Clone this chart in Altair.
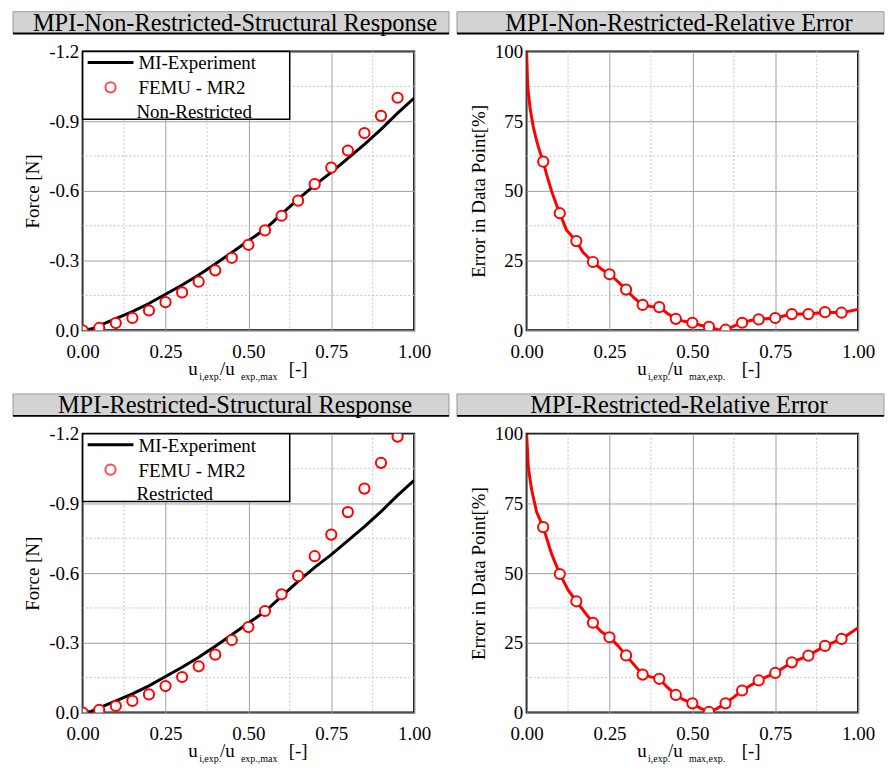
import altair as alt
import pandas as pd

FONT = "Liberation Serif"
W, H = 333, 280

# ---------------- data ----------------
x_ticks = [0, 0.25, 0.5, 0.75, 1.0]
x_minor = [0.125, 0.375, 0.625, 0.875]
force_ticks = [0, -0.3, -0.6, -0.9, -1.2]
force_minor = [-0.15, -0.45, -0.75, -1.05]
err_ticks = [0, 25, 50, 75, 100]
err_minor = [12.5, 37.5, 62.5, 87.5]

exp_u = [0, 0.025, 0.05, 0.1, 0.15, 0.2, 0.25, 0.3, 0.35, 0.4, 0.45, 0.5, 0.55,
         0.6, 0.65, 0.7, 0.75, 0.8, 0.85, 0.9, 0.95, 1.0]
exp_force = [0, -0.005, -0.02, -0.05, -0.08, -0.115, -0.155, -0.195, -0.238, -0.285,
             -0.335, -0.385, -0.435, -0.5, -0.565, -0.625, -0.68, -0.74, -0.8,
             -0.865, -0.935, -1.0]

femu_u = [0, 0.05, 0.1, 0.15, 0.2, 0.25, 0.3, 0.35, 0.4, 0.45, 0.5, 0.55, 0.6,
          0.65, 0.7, 0.75, 0.8, 0.85, 0.9, 0.95]
femu_nr_force = [0, -0.01, -0.031, -0.053, -0.085, -0.121, -0.163, -0.209, -0.258,
                 -0.312, -0.368, -0.43, -0.493, -0.558, -0.629, -0.7, -0.774,
                 -0.849, -0.923, -1.001]
femu_r_force = [0, -0.011, -0.028, -0.05, -0.078, -0.114, -0.153, -0.199, -0.249,
                -0.312, -0.368, -0.437, -0.509, -0.588, -0.673, -0.766, -0.863,
                -0.964, -1.075, -1.188]

err_nr_line_u = [0, 0.003, 0.01, 0.02, 0.03, 0.04, 0.05, 0.06, 0.075, 0.09, 0.1,
                 0.12, 0.15, 0.17, 0.2, 0.225, 0.25, 0.275, 0.3, 0.325, 0.35, 0.375,
                 0.4, 0.425, 0.45, 0.475, 0.5, 0.525, 0.55, 0.575, 0.6, 0.625, 0.65,
                 0.675, 0.7, 0.75, 0.8, 0.85, 0.9, 0.95, 1.0]
err_nr_line = [100, 88, 80, 73, 68, 64, 60.5, 56, 50, 45, 42, 36, 32, 28, 24.5, 22,
               20.2, 17.5, 14.6, 11.5, 9.1, 8.5, 8.3, 6, 4.1, 3.2, 2.7, 1.8, 1.2,
               0.3, 0.2, 1.5, 2.7, 3.5, 3.9, 4.4, 5.8, 5.8, 6.5, 6.3, 7.5]
err_pts_u = [0.05, 0.1, 0.15, 0.2, 0.25, 0.3, 0.35, 0.4, 0.45, 0.5, 0.55, 0.6,
             0.65, 0.7, 0.75, 0.8, 0.85, 0.9, 0.95]
err_nr_pts = [60.5, 42.0, 32.0, 24.5, 20.1, 14.6, 9.1, 8.3, 4.1, 2.7, 1.2, 0.2,
              2.7, 3.9, 4.4, 5.8, 5.8, 6.5, 6.3]

err_r_line_u = [0, 0.005, 0.015, 0.03, 0.05, 0.075, 0.1, 0.125, 0.15, 0.175, 0.2,
                0.225, 0.25, 0.275, 0.3, 0.325, 0.35, 0.375, 0.4, 0.425, 0.45,
                0.475, 0.5, 0.525, 0.55, 0.575, 0.6, 0.625, 0.65, 0.7, 0.75, 0.8,
                0.85, 0.9, 0.95, 1.0]
err_r_line = [100, 88, 80, 72, 66.5, 57, 49.7, 44, 39.9, 36, 32.2, 29, 27.0, 24,
              20.5, 17, 13.6, 12.8, 12.1, 9, 6.3, 4.5, 3.3, 1.5, 0.2, 1.5, 3.3,
              5.5, 7.9, 11.5, 14.2, 18.0, 20.4, 23.9, 26.4, 30.4]
err_r_pts = [66.5, 49.7, 39.9, 32.2, 27.0, 20.5, 13.6, 12.1, 6.3, 3.3, 0.2, 3.3,
             7.9, 11.5, 14.2, 18.0, 20.4, 23.9, 26.4]

# ---------------- helpers ----------------
ONE = pd.DataFrame({"k": [0]})
xs = alt.Scale(domain=[0, 1], nice=False, zero=False)

x_axis = alt.Axis(values=x_ticks, format=".2f", title=None, grid=True,
                  labelPadding=12, ticks=False, tickSize=0, domain=False,
                  labelFlush=False)


def y_axis(values, title, label_expr):
    return alt.Axis(values=values, title=title, grid=True, ticks=False, tickSize=0,
                    domain=False, labelPadding=4, titlePadding=6,
                    labelExpr=label_expr, labelFlush=False)


def text_at(txt, x, y, size=19, align="left", baseline="alphabetic"):
    return alt.Chart(ONE).mark_text(
        text=txt, font=FONT, fontSize=size, align=align, baseline=baseline,
        color="black"
    ).encode(x=alt.value(x), y=alt.value(y))


def band(title, right):
    rect = alt.Chart(ONE).mark_rect(fill="#d3d3d3", stroke="#9a9a9a", strokeWidth=1).encode(
        x=alt.value(-70), x2=alt.value(right), y=alt.value(-40), y2=alt.value(-18))
    bottom = alt.Chart(ONE).mark_rule(color="black", strokeWidth=2).encode(
        x=alt.value(-70), x2=alt.value(right), y=alt.value(-18))
    txt = text_at(title, 153, -28, size=24.5, align="center", baseline="middle")
    return [rect, bottom, txt]


def xtitle(parts):
    layers = []
    for txt, x, sub in parts:
        if sub:
            layers.append(text_at(txt, x, H + 50, size=10))
        else:
            layers.append(text_at(txt, x, H + 45, size=19))
    return layers


def minor_grid(ys, yaxis, y_minor):
    v = alt.Chart(pd.DataFrame({"u": x_minor})).mark_rule(
        color="#c4c4c4", strokeDash=[2, 2], strokeWidth=1).encode(
        x=alt.X("u:Q", scale=xs, axis=x_axis))
    h = alt.Chart(pd.DataFrame({"v": y_minor})).mark_rule(
        color="#c4c4c4", strokeDash=[2, 2], strokeWidth=1).encode(
        y=alt.Y("v:Q", scale=ys, axis=yaxis))
    return [v, h]


force_label = "replace(format(datum.value, '.1f'), '\u2212', '-')"


def force_panel(title, femu_force, third):
    ys = alt.Scale(domain=[-1.2, 0], reverse=True, nice=False, zero=False)
    ya = y_axis(force_ticks, "Force [N]", force_label)
    exp_df = pd.DataFrame({"u": exp_u, "F": exp_force})
    fem_df = pd.DataFrame({"u": femu_u, "F": femu_force})
    line = alt.Chart(exp_df).mark_line(color="black", strokeWidth=3, clip=True).encode(
        x=alt.X("u:Q", scale=xs, axis=x_axis), y=alt.Y("F:Q", scale=ys, axis=ya))
    pts = alt.Chart(fem_df).mark_point(shape="circle", size=105, filled=False,
                                        fill="white", fillOpacity=1, color="red",
                                        strokeWidth=2, clip=True).encode(
        x=alt.X("u:Q", scale=xs, axis=x_axis), y=alt.Y("F:Q", scale=ys, axis=ya))
    # legend
    box = alt.Chart(ONE).mark_rect(fill="white", stroke="black", strokeWidth=1.5).encode(
        x=alt.value(0), x2=alt.value(208), y=alt.value(0), y2=alt.value(68))
    lsample = alt.Chart(ONE).mark_rule(color="black", strokeWidth=3).encode(
        x=alt.value(5), x2=alt.value(51), y=alt.value(11))
    csample = alt.Chart(ONE).mark_point(shape="circle", size=105, filled=False,
                                        color="red", strokeWidth=2).encode(
        x=alt.value(28), y=alt.value(36))
    t1 = text_at("MI-Experiment", 56, 12, baseline="middle")
    t2 = text_at("FEMU - MR2", 56, 37, baseline="middle")
    t3 = text_at(third, 54, 61, baseline="middle")
    xt = xtitle([("u", 106, False), ("i,exp.", 117, True), ("/u", 138, False),
                 ("exp.,max", 159, True), ("[-]", 207, False)])
    layers = minor_grid(ys, ya, force_minor) + [line, pts, box, lsample, csample,
                                                t1, t2, t3] + xt + band(title, 368)
    return alt.layer(*layers).properties(width=W, height=H)


err_label = "format(datum.value, 'd')"


def error_panel(title, lu, lv, pv):
    ys = alt.Scale(domain=[0, 100], nice=False, zero=False)
    ya = y_axis(err_ticks, "Error in Data Point[%]", err_label)
    ldf = pd.DataFrame({"u": lu, "e": lv})
    pdf = pd.DataFrame({"u": err_pts_u, "e": pv})
    line = alt.Chart(ldf).mark_line(color="red", strokeWidth=3, clip=True).encode(
        x=alt.X("u:Q", scale=xs, axis=x_axis), y=alt.Y("e:Q", scale=ys, axis=ya))
    pts = alt.Chart(pdf).mark_point(shape="circle", size=105, filled=False,
                                     fill="white", fillOpacity=1, color="red",
                                     strokeWidth=2, clip=True).encode(
        x=alt.X("u:Q", scale=xs, axis=x_axis), y=alt.Y("e:Q", scale=ys, axis=ya))
    xt = xtitle([("u", 111, False), ("i,exp.", 122, True), ("/u", 142, False),
                 ("max,exp.", 163, True), ("[-]", 216, False)])
    layers = minor_grid(ys, ya, err_minor) + [line, pts] + xt + band(title, 359)
    return alt.layer(*layers).properties(width=W, height=H)


tl = force_panel("MPI-Non-Restricted-Structural Response", femu_nr_force, "Non-Restricted")
tr = error_panel("MPI-Non-Restricted-Relative Error", err_nr_line_u, err_nr_line, err_nr_pts)
bl = force_panel("MPI-Restricted-Structural Response", femu_r_force, "Restricted")
br = error_panel("MPI-Restricted-Relative Error", err_r_line_u, err_r_line, err_r_pts)

chart = alt.concat(
    tl, tr, bl, br, columns=2, spacing={"row": 104, "column": 113}, bounds="flush"
).properties(
    padding={"left": 3, "top": 0, "right": 0, "bottom": 0},
    background="white"
).configure_view(
    stroke="black", strokeWidth=2
).configure_axis(
    labelFont=FONT, labelFontSize=19, labelColor="black",
    titleFont=FONT, titleFontSize=19, titleFontWeight="normal", titleColor="black",
    gridColor="#a0a0a0", gridWidth=1
)

chart.save("out.html", embed_options={"renderer": "svg", "actions": False})
